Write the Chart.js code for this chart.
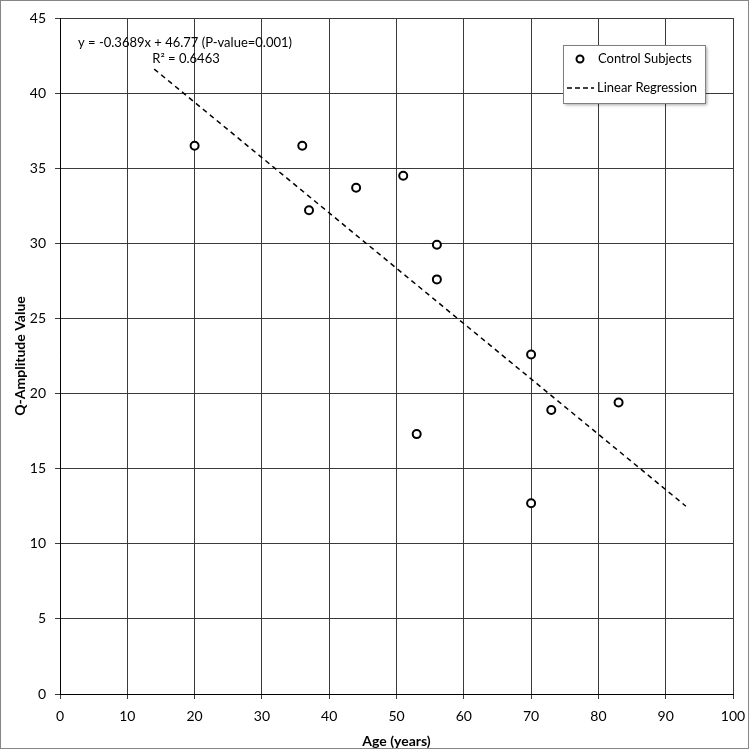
<!DOCTYPE html>
<html>
<head>
<meta charset="utf-8">
<script src="https://cdn.jsdelivr.net/npm/chart.js@4"></script>
<style>
    body { margin: 0; background: #fff; }
    #wrap { width: 750px; height: 750px; }
</style>
</head>
<body>
<div id="wrap"><canvas id="chart" width="750" height="750"></canvas></div>
<script>
'use strict';

// control subjects
var ages = [20, 36, 37, 44, 51, 53, 56, 56, 70, 70, 73, 83];
var qAmplitude = [36.5, 36.5, 32.2, 33.7, 34.5, 17.3, 29.9, 27.6, 22.6, 12.7, 18.9, 19.4];

// ends of the regression line as drawn
var regressionX = [14, 93];
var regressionY = [41.6, 12.5];

var equationLines = ['y = -0.3689x + 46.77 (P-value=0.001)', 'R\u00b2 = 0.6463'];
var legendLabels = ['Control Subjects', 'Linear Regression'];

var fontFamily = 'Lato, "Open Sans", sans-serif';

var toPoints = function (xs, ys) {
    var out = [];
    for (var i = 0; i < xs.length; i++) {
        out.push({ x: xs[i], y: ys[i] });
    }
    return out;
};

// outer grey frame of the chart area
var framePlugin = {
    id: 'frame',
    beforeDraw: function (chart) {
        var ctx = chart.ctx;
        ctx.save();
        ctx.fillStyle = '#fff';
        ctx.fillRect(0, 0, chart.width, chart.height);
        ctx.strokeStyle = '#868686';
        ctx.lineWidth = 1;
        ctx.strokeRect(0.5, 0.5, chart.width - 2, chart.height - 2);
        ctx.restore();
    }
};

// equation text and the boxed legend inside the plot
var notesPlugin = {
    id: 'notes',
    afterDraw: function (chart) {
        var ctx = chart.ctx;
        ctx.save();
        ctx.fillStyle = '#000';
        ctx.font = '13px ' + fontFamily;
        ctx.textAlign = 'center';
        ctx.textBaseline = 'middle';
        ctx.fillText(equationLines[0], 185, 43);
        ctx.fillText(equationLines[1], 186, 59);

        // legend box with a soft shadow
        var bx = 563, by = 45, bw = 142, bh = 58;
        ctx.shadowColor = 'rgba(0,0,0,0.35)';
        ctx.shadowOffsetX = 2;
        ctx.shadowOffsetY = 2;
        ctx.shadowBlur = 3;
        ctx.fillStyle = '#fff';
        ctx.fillRect(bx, by, bw, bh);
        ctx.shadowColor = 'transparent';
        ctx.strokeStyle = '#7f7f7f';
        ctx.lineWidth = 1;
        ctx.strokeRect(bx + 0.5, by + 0.5, bw, bh);

        ctx.beginPath();
        ctx.arc(580, 59, 3.5, 0, Math.PI * 2);
        ctx.fillStyle = '#fff';
        ctx.fill();
        ctx.strokeStyle = '#000';
        ctx.lineWidth = 2;
        ctx.stroke();

        ctx.beginPath();
        ctx.setLineDash([5, 3]);
        ctx.lineWidth = 1.5;
        ctx.moveTo(567, 88);
        ctx.lineTo(594, 88);
        ctx.stroke();
        ctx.setLineDash([]);

        ctx.fillStyle = '#000';
        ctx.textAlign = 'left';
        ctx.font = '13px ' + fontFamily;
        ctx.fillText(legendLabels[0], 598, 59);
        ctx.fillText(legendLabels[1], 597, 88);
        ctx.restore();
    }
};

var ctx = document.getElementById('chart').getContext('2d');

new Chart(ctx, {
    type: 'scatter',
    data: {
        datasets: [
            {
                label: legendLabels[0],
                data: toPoints(ages, qAmplitude),
                pointRadius: 4,
                pointBorderWidth: 2,
                pointBorderColor: '#000',
                pointBackgroundColor: '#fff',
                showLine: false,
                order: 1
            },
            {
                label: legendLabels[1],
                type: 'line',
                data: toPoints(regressionX, regressionY),
                borderColor: '#000',
                borderWidth: 1.5,
                borderDash: [5, 4],
                pointRadius: 0,
                fill: false,
                order: 2
            }
        ]
    },
    options: {
        responsive: false,
        animation: false,
        devicePixelRatio: 1,
        layout: { padding: { left: 0, top: 18, right: 0, bottom: 0 } },
        plugins: {
            legend: { display: false },
            tooltip: { enabled: false }
        },
        scales: {
            x: {
                type: 'linear',
                min: 0,
                max: 100,
                ticks: {
                    stepSize: 10,
                    color: '#000',
                    padding: 9,
                    font: { family: fontFamily, size: 14 }
                },
                grid: { color: '#3a3a3a', lineWidth: 1, tickLength: 5 },
                border: { color: '#000', width: 1 },
                title: {
                    display: true,
                    text: 'Age (years)',
                    color: '#000',
                    padding: { top: 0, bottom: 0 },
                    font: { family: fontFamily, size: 14, weight: 'bold' }
                },
                afterFit: function (scale) {
                    scale.height = 56;
                    scale.paddingRight = 17;
                    scale.paddingLeft = 0;
                }
            },
            y: {
                type: 'linear',
                min: 0,
                max: 45,
                ticks: {
                    stepSize: 5,
                    color: '#000',
                    padding: 9,
                    font: { family: fontFamily, size: 14 }
                },
                grid: { color: '#3a3a3a', lineWidth: 1, tickLength: 5 },
                border: { color: '#000', width: 1 },
                title: {
                    display: true,
                    text: 'Q-Amplitude Value',
                    color: '#000',
                    padding: { top: 12, bottom: 0 },
                    font: { family: fontFamily, size: 14, weight: 'bold' }
                },
                afterFit: function (scale) { scale.width = 60; }
            }
        }
    },
    plugins: [framePlugin, notesPlugin]
});
</script>
</body>
</html>
